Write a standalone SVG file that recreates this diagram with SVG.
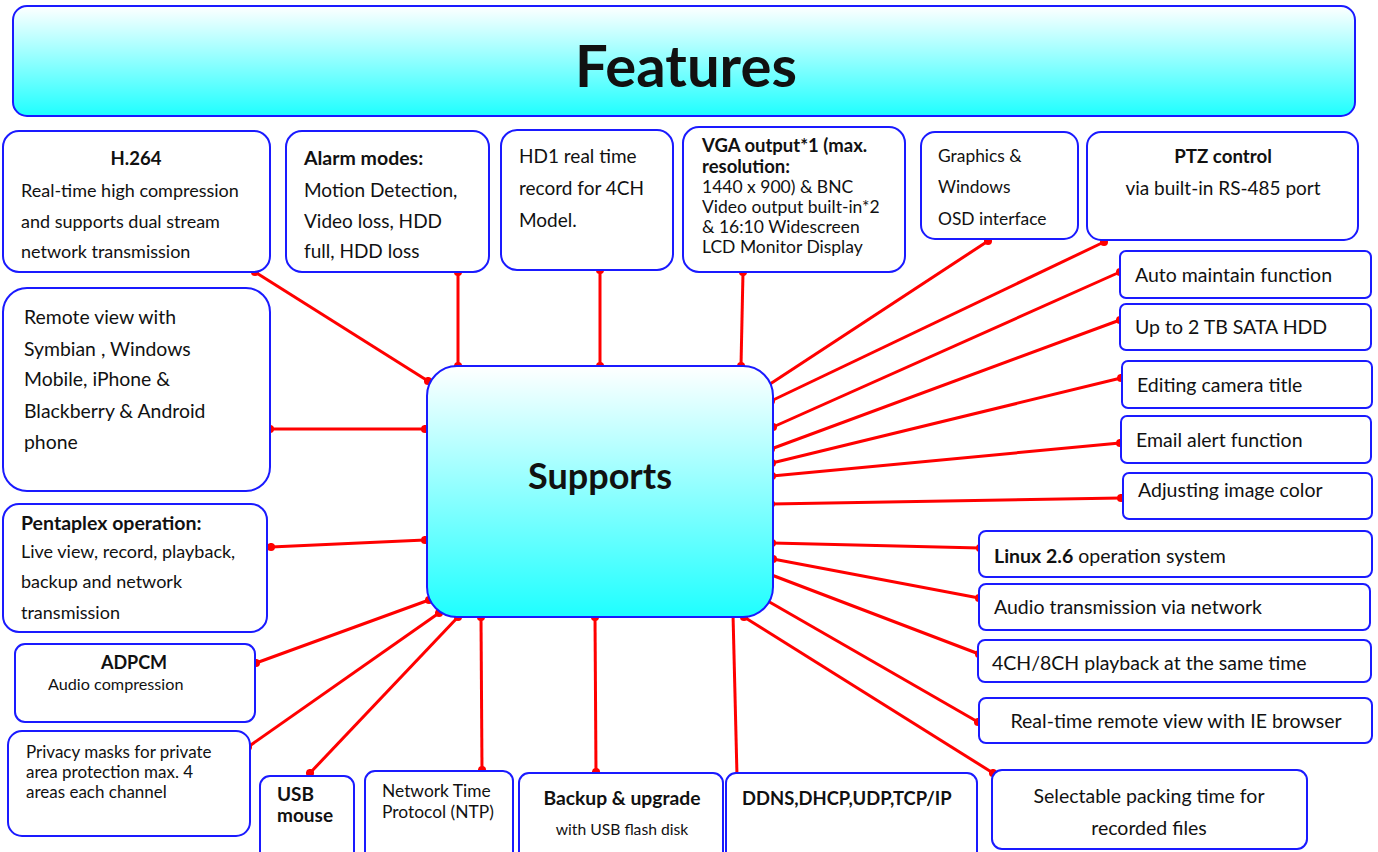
<svg xmlns="http://www.w3.org/2000/svg" width="1378" height="852" viewBox="0 0 1378 852">
<defs>
<linearGradient id="g" x1="0" y1="0" x2="0" y2="1">
<stop offset="0" stop-color="#ffffff"/>
<stop offset="1" stop-color="#1effff"/>
</linearGradient>
<marker id="dot" viewBox="-5 -5 10 10" markerWidth="9" markerHeight="9" markerUnits="userSpaceOnUse" refX="0" refY="0">
<circle r="4.5" fill="#ff0000"/>
</marker>
<style>
.box{fill:#ffffff;stroke:#1a1aff;stroke-width:2}
.grad{fill:url(#g);stroke:#1a1aff;stroke-width:2}
.c line{stroke:#ff0000;stroke-width:3;marker-start:url(#dot);marker-end:url(#dot)}
text{font-family:Lato,"Open Sans","Liberation Sans",sans-serif;fill:#111111}
.b{font-weight:bold}
.m{text-anchor:middle}
.r{font-size:19.5px}
</style>
</defs>
<rect width="1378" height="852" fill="#ffffff"/>

<g id="features">
<rect class="grad" x="13" y="6" width="1342" height="110" rx="14"/>
<text class="b m" x="686" y="87" style="font-size:58px">Features</text>
</g>

<g id="connectors" class="c">
<line x1="255" y1="272" x2="428" y2="381"/>
<line x1="458" y1="272" x2="458" y2="366"/>
<line x1="600" y1="270" x2="600" y2="366"/>
<line x1="743" y1="272" x2="741" y2="366"/>
<line x1="988" y1="241" x2="767" y2="386"/>
<line x1="1104" y1="242" x2="771" y2="401"/>
<line x1="1120" y1="272" x2="773" y2="427"/>
<line x1="1120" y1="320" x2="771" y2="449"/>
<line x1="1121" y1="378" x2="772" y2="463"/>
<line x1="1120" y1="443" x2="772" y2="476"/>
<line x1="1121" y1="498" x2="771" y2="504"/>
<line x1="980" y1="548" x2="772" y2="543"/>
<line x1="979" y1="598" x2="773" y2="559"/>
<line x1="979" y1="654" x2="769" y2="574"/>
<line x1="978" y1="722" x2="766" y2="600"/>
<line x1="993" y1="773" x2="744" y2="617"/>
<line x1="737" y1="776" x2="733" y2="614"/>
<line x1="596" y1="772" x2="595" y2="617"/>
<line x1="482" y1="770" x2="481" y2="617"/>
<line x1="310" y1="773" x2="458" y2="617"/>
<line x1="248" y1="747" x2="439" y2="613"/>
<line x1="256" y1="663" x2="429" y2="600"/>
<line x1="271" y1="547" x2="425" y2="540"/>
<line x1="270" y1="429" x2="425" y2="429"/>
</g>

<g id="supports">
<rect class="grad" x="427" y="366" width="346" height="251" rx="30"/>
<text class="b m" x="600" y="489" style="font-size:36px">Supports</text>
</g>

<g id="h264">
<rect class="box" x="3" y="131" width="267" height="141" rx="16"/>
<text class="b m" x="136" y="165" style="font-size:18.5px">H.264</text>
<text x="21" y="197" style="font-size:18px">Real-time high compression</text>
<text x="21" y="228" style="font-size:18px">and supports dual stream</text>
<text x="21" y="258" style="font-size:18px">network transmission</text>
</g>

<g id="alarm">
<rect class="box" x="286" y="131" width="203" height="141" rx="16"/>
<text class="b" x="304" y="165" style="font-size:19.5px">Alarm modes:</text>
<text x="304" y="197" style="font-size:19px">Motion Detection,</text>
<text x="304" y="228" style="font-size:19px">Video loss, HDD</text>
<text x="304" y="258" style="font-size:19px">full, HDD loss</text>
</g>

<g id="hd1">
<rect class="box" x="501" y="130" width="172" height="140" rx="16"/>
<text x="519" y="163" style="font-size:19px">HD1 real time</text>
<text x="519" y="195" style="font-size:19px">record for 4CH</text>
<text x="519" y="227" style="font-size:19px">Model.</text>
</g>

<g id="vga">
<rect class="box" x="683" y="127" width="222" height="145" rx="16"/>
<text class="b" x="702" y="152" style="font-size:18.5px">VGA output*1 (max.</text>
<text class="b" x="702" y="173" style="font-size:18.5px">resolution:</text>
<text x="702" y="193" style="font-size:17.5px">1440 x 900) &amp; BNC</text>
<text x="702" y="213" style="font-size:17.5px">Video output built-in*2</text>
<text x="702" y="233" style="font-size:17.5px">&amp; 16:10 Widescreen</text>
<text x="702" y="253" style="font-size:17.5px">LCD Monitor Display</text>
</g>

<g id="graphics">
<rect class="box" x="921" y="132" width="157" height="107" rx="14"/>
<text x="938" y="162" style="font-size:17.4px">Graphics &amp;</text>
<text x="938" y="193" style="font-size:17.4px">Windows</text>
<text x="938" y="225" style="font-size:17.4px">OSD interface</text>
</g>

<g id="ptz">
<rect class="box" x="1087" y="132" width="271" height="108" rx="14"/>
<text class="b m" x="1223" y="163" style="font-size:18.7px">PTZ control</text>
<text class="m" x="1223" y="195" style="font-size:19px">via built-in RS-485 port</text>
</g>

<g id="auto">
<rect class="box" x="1120" y="251" width="251" height="47" rx="6"/>
<text class="r" x="1135" y="282">Auto maintain function</text>
</g>

<g id="hdd">
<rect class="box" x="1120" y="304" width="251" height="46" rx="6"/>
<text class="r" x="1135" y="334">Up to 2 TB SATA HDD</text>
</g>

<g id="editing">
<rect class="box" x="1122" y="361" width="250" height="47" rx="6"/>
<text class="r" x="1137" y="392">Editing camera title</text>
</g>

<g id="email">
<rect class="box" x="1121" y="416" width="250" height="47" rx="6"/>
<text class="r" x="1136" y="447">Email alert function</text>
</g>

<g id="adjusting">
<rect class="box" x="1123" y="473" width="249" height="46" rx="6"/>
<text class="r" x="1138" y="497">Adjusting image color</text>
</g>

<g id="linux">
<rect class="box" x="979" y="531" width="393" height="46" rx="7"/>
<text class="r" x="994" y="563"><tspan class="b">Linux 2.6</tspan> operation system</text>
</g>

<g id="audio">
<rect class="box" x="979" y="584" width="391" height="46" rx="7"/>
<text class="r" x="994" y="614">Audio transmission via network</text>
</g>

<g id="playback">
<rect class="box" x="978" y="640" width="393" height="42" rx="7"/>
<text class="r" x="992" y="670">4CH/8CH playback at the same time</text>
</g>

<g id="ie">
<rect class="box" x="979" y="698" width="393" height="45" rx="7"/>
<text class="m r" x="1176" y="728">Real-time remote view with IE browser</text>
</g>

<g id="packing">
<rect class="box" x="992" y="770" width="315" height="79" rx="10"/>
<text class="m r" x="1149" y="803">Selectable packing time for</text>
<text class="m r" x="1149" y="835">recorded files</text>
</g>

<g id="remote">
<rect class="box" x="3" y="288" width="267" height="203" rx="24"/>
<text x="24" y="324" style="font-size:19.4px">Remote view with</text>
<text x="24" y="356" style="font-size:19.4px">Symbian , Windows</text>
<text x="24" y="386" style="font-size:19.4px">Mobile, iPhone &amp;</text>
<text x="24" y="418" style="font-size:19.4px">Blackberry &amp; Android</text>
<text x="24" y="449" style="font-size:19.4px">phone</text>
</g>

<g id="pentaplex">
<rect class="box" x="3" y="504" width="264" height="128" rx="16"/>
<text class="b" x="21" y="530" style="font-size:19.5px">Pentaplex operation:</text>
<text x="21" y="558" style="font-size:18px">Live view, record, playback,</text>
<text x="21" y="588" style="font-size:18px">backup and network</text>
<text x="21" y="619" style="font-size:18px">transmission</text>
</g>

<g id="adpcm">
<rect class="box" x="15" y="644" width="240" height="78" rx="10"/>
<text class="b m" x="134" y="669" style="font-size:18px">ADPCM</text>
<text x="48" y="690" style="font-size:16.2px">Audio compression</text>
</g>

<g id="privacy">
<rect class="box" x="8" y="731" width="242" height="105" rx="14"/>
<text x="26" y="758" style="font-size:17px">Privacy masks for private</text>
<text x="26" y="778" style="font-size:17px">area protection max. 4</text>
<text x="26" y="798" style="font-size:17px">areas each channel</text>
</g>

<g id="usb">
<rect class="box" x="260" y="776" width="94" height="90" rx="10"/>
<text class="b" x="277" y="801" style="font-size:19px">USB</text>
<text class="b" x="277" y="822" style="font-size:19px">mouse</text>
</g>

<g id="ntp">
<rect class="box" x="365" y="771" width="148" height="95" rx="10"/>
<text x="382" y="797" style="font-size:17.4px">Network Time</text>
<text x="382" y="818" style="font-size:17.4px">Protocol (NTP)</text>
</g>

<g id="backup">
<rect class="box" x="519" y="773" width="204" height="93" rx="10"/>
<text class="b m" x="622" y="805" style="font-size:19.3px">Backup &amp; upgrade</text>
<text class="m" x="622" y="835" style="font-size:15.7px">with USB flash disk</text>
</g>

<g id="ddns">
<rect class="box" x="726" y="773" width="251" height="93" rx="10"/>
<text class="b" x="742" y="805" style="font-size:18.4px">DDNS,DHCP,UDP,TCP/IP</text>
</g>
</svg>
